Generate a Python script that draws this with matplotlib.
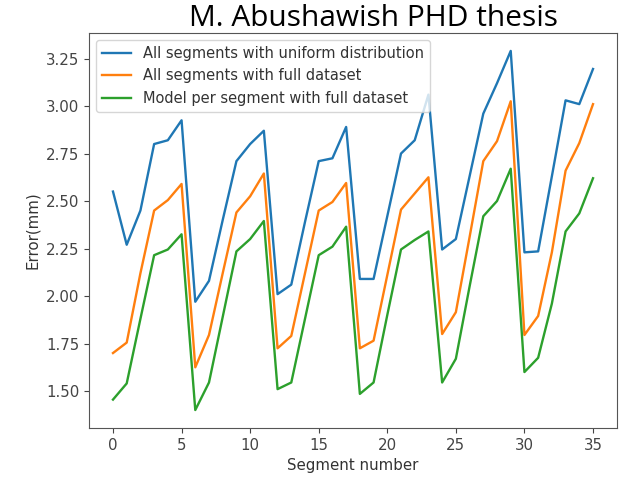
import numpy as np
import matplotlib.pyplot as plt

segments = np.arange(36)

uniform_all = [2.55, 2.27, 2.45, 2.80, 2.82, 2.925, 1.97, 2.08, 2.40, 2.71,
               2.80, 2.87, 2.01, 2.06, 2.39, 2.71, 2.725, 2.89, 2.09, 2.09,
               2.42, 2.75, 2.82, 3.06, 2.245, 2.30, 2.63, 2.96, 3.12, 3.29,
               2.23, 2.235, 2.63, 3.03, 3.01, 3.195]
full_all = [1.70, 1.755, 2.12, 2.45, 2.505, 2.59, 1.625, 1.795, 2.12, 2.44,
            2.525, 2.645, 1.725, 1.79, 2.12, 2.45, 2.495, 2.595, 1.725, 1.765,
            2.11, 2.455, 2.54, 2.625, 1.80, 1.915, 2.31, 2.71, 2.815, 3.025,
            1.795, 1.895, 2.23, 2.66, 2.805, 3.01]
per_segment = [1.455, 1.54, 1.88, 2.215, 2.245, 2.325, 1.40, 1.545, 1.89, 2.235,
               2.30, 2.395, 1.51, 1.545, 1.88, 2.215, 2.26, 2.365, 1.485, 1.545,
               1.90, 2.245, 2.295, 2.34, 1.545, 1.67, 2.05, 2.42, 2.50, 2.67,
               1.60, 1.675, 1.96, 2.34, 2.435, 2.62]

labels = ["All segments with uniform distribution",
          "All segments with full dataset",
          "Model per segment with full dataset"]

plt.rcParams["font.size"] = 10.8
plt.rcParams["text.color"] = "#333333"
plt.rcParams["axes.labelcolor"] = "#333333"
plt.rcParams["xtick.color"] = "#444444"
plt.rcParams["ytick.color"] = "#444444"
plt.rcParams["axes.edgecolor"] = "#555555"

fig = plt.figure(figsize=(6.28, 4.78), dpi=100)
ax = fig.add_axes([0.1417, 0.1046, 0.8408, 0.8264])

ax.plot(segments, uniform_all, color="tab:blue", lw=1.7, label=labels[0])
ax.plot(segments, full_all, color="tab:orange", lw=1.7, label=labels[1])
ax.plot(segments, per_segment, color="tab:green", lw=1.7, label=labels[2])

ax.set_xticks([0, 5, 10, 15, 20, 25, 30, 35])
ax.set_yticks([1.5, 1.75, 2.0, 2.25, 2.5, 2.75, 3.0, 3.25])
ax.set_xlabel("Segment number")
ax.set_ylabel("Error(mm)")
ax.legend(loc="upper left", fontsize=10.5)

fig.text(0.594, 0.962, "M. Abushawish PHD thesis", ha="center", va="center",
         fontsize=21.5, family="Open Sans", color="black")

fig.savefig("out.png", dpi=100)
